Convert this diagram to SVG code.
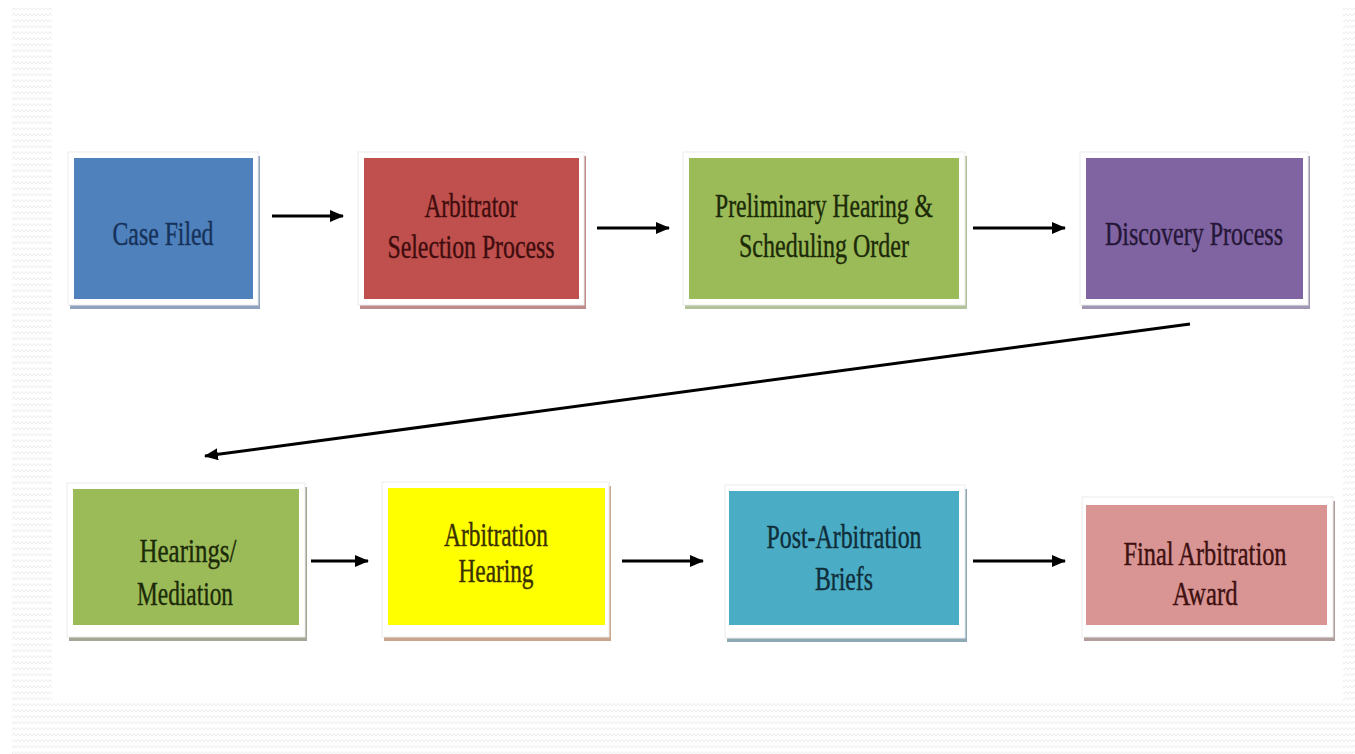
<svg xmlns="http://www.w3.org/2000/svg" width="1355" height="754" viewBox="0 0 1355 754">
<defs>
<pattern id="zz" width="8" height="6" patternUnits="userSpaceOnUse">
<path d="M0 4 L2 1.5 L4 4 L6 1.5 L8 4" fill="none" stroke="#e9e9e9" stroke-width="0.9"/>
</pattern>
<marker id="ah" viewBox="0 0 14 12" refX="13" refY="6" markerWidth="14" markerHeight="12" markerUnits="userSpaceOnUse" orient="auto">
<path d="M0 0 L14 6 L0 12 Z" fill="#000"/>
</marker>
<style>
.frame{fill:#ffffff;stroke:#ececec;stroke-width:1}
.lbl{font-family:"Liberation Serif","Times New Roman",serif;font-size:33px;text-anchor:middle;stroke-width:0.4}
.con line{stroke:#000;stroke-width:3;marker-end:url(#ah)}
</style>
</defs>
<rect x="0" y="0" width="1355" height="754" fill="#ffffff"/>
<g id="background">
<rect x="12" y="8" width="40" height="746" fill="url(#zz)"/>
<rect x="1343" y="8" width="12" height="746" fill="url(#zz)"/>
<rect x="52" y="703" width="1291" height="51" fill="url(#zz)"/>
</g>

<g id="node-case-filed">
<rect x="70" y="156" width="190" height="153" fill="#8fa3bf"/>
<rect class="frame" x="68" y="152" width="190" height="153"/>
<rect x="74" y="158" width="179" height="141" fill="#4f81bd"/>
<text class="lbl" x="163" y="245" fill="#16325a" stroke="#16325a" textLength="101" lengthAdjust="spacingAndGlyphs">Case Filed</text>
</g>

<g id="node-arbitrator-selection">
<rect x="360" y="156" width="226" height="153" fill="#bf8a8a"/>
<rect class="frame" x="358" y="152" width="226" height="153"/>
<rect x="364" y="158" width="215" height="141" fill="#c0504d"/>
<text class="lbl" x="471" y="217" fill="#3f0d0d" stroke="#3f0d0d" textLength="93" lengthAdjust="spacingAndGlyphs">Arbitrator</text>
<text class="lbl" x="471" y="258" fill="#3f0d0d" stroke="#3f0d0d" textLength="167" lengthAdjust="spacingAndGlyphs">Selection Process</text>
</g>

<g id="node-preliminary-hearing">
<rect x="685" y="156" width="282" height="153" fill="#b3c29a"/>
<rect class="frame" x="683" y="152" width="282" height="153"/>
<rect x="689" y="158" width="270" height="141" fill="#9bbb59"/>
<text class="lbl" x="824" y="217" fill="#1c2a08" stroke="#1c2a08" textLength="218" lengthAdjust="spacingAndGlyphs">Preliminary Hearing &amp;</text>
<text class="lbl" x="824" y="257" fill="#1c2a08" stroke="#1c2a08" textLength="170" lengthAdjust="spacingAndGlyphs">Scheduling Order</text>
</g>

<g id="node-discovery">
<rect x="1082" y="156" width="228" height="153" fill="#a196b3"/>
<rect class="frame" x="1080" y="152" width="228" height="153"/>
<rect x="1086" y="158" width="217" height="141" fill="#8064a2"/>
<text class="lbl" x="1194" y="245" fill="#251637" stroke="#251637" textLength="178" lengthAdjust="spacingAndGlyphs">Discovery Process</text>
</g>

<g id="node-hearings-mediation">
<rect x="69" y="487" width="238" height="154" fill="#a3a694"/>
<rect class="frame" x="67" y="483" width="238" height="154"/>
<rect x="73" y="489" width="226" height="136" fill="#9bbb59"/>
<text class="lbl" x="188" y="562" fill="#1c2a08" stroke="#1c2a08" textLength="97" lengthAdjust="spacingAndGlyphs">Hearings/</text>
<text class="lbl" x="185" y="605" fill="#1c2a08" stroke="#1c2a08" textLength="96" lengthAdjust="spacingAndGlyphs">Mediation</text>
</g>

<g id="node-arbitration-hearing">
<rect x="384" y="486" width="227" height="155" fill="#caa68c"/>
<rect class="frame" x="382" y="482" width="227" height="155"/>
<rect x="388" y="488" width="217" height="137" fill="#ffff00"/>
<text class="lbl" x="496" y="546" fill="#3a3000" stroke="#3a3000" textLength="104" lengthAdjust="spacingAndGlyphs">Arbitration</text>
<text class="lbl" x="496" y="582" fill="#3a3000" stroke="#3a3000" textLength="75" lengthAdjust="spacingAndGlyphs">Hearing</text>
</g>

<g id="node-post-arbitration">
<rect x="727" y="489" width="240" height="153" fill="#8ea9b6"/>
<rect class="frame" x="725" y="485" width="240" height="153"/>
<rect x="729" y="491" width="230" height="134" fill="#4bacc6"/>
<text class="lbl" x="844" y="548" fill="#0f2e3a" stroke="#0f2e3a" textLength="155" lengthAdjust="spacingAndGlyphs">Post-Arbitration</text>
<text class="lbl" x="844" y="590" fill="#0f2e3a" stroke="#0f2e3a" textLength="58" lengthAdjust="spacingAndGlyphs">Briefs</text>
</g>

<g id="node-final-award">
<rect x="1084" y="501" width="251" height="140" fill="#b39c9c"/>
<rect class="frame" x="1082" y="497" width="251" height="140"/>
<rect x="1086" y="505" width="241" height="120" fill="#d99594"/>
<text class="lbl" x="1205" y="565" fill="#3e1010" stroke="#3e1010" textLength="163" lengthAdjust="spacingAndGlyphs">Final Arbitration</text>
<text class="lbl" x="1205" y="605" fill="#3e1010" stroke="#3e1010" textLength="65" lengthAdjust="spacingAndGlyphs">Award</text>
</g>

<g id="connectors" class="con">
<line x1="272" y1="216" x2="343" y2="216"/>
<line x1="597" y1="228" x2="669" y2="228"/>
<line x1="973" y1="228" x2="1065" y2="228"/>
<line x1="1190" y1="324" x2="205" y2="456"/>
<line x1="311" y1="561" x2="368" y2="561"/>
<line x1="622" y1="561" x2="703" y2="561"/>
<line x1="973" y1="561" x2="1065" y2="561"/>
</g>
</svg>
